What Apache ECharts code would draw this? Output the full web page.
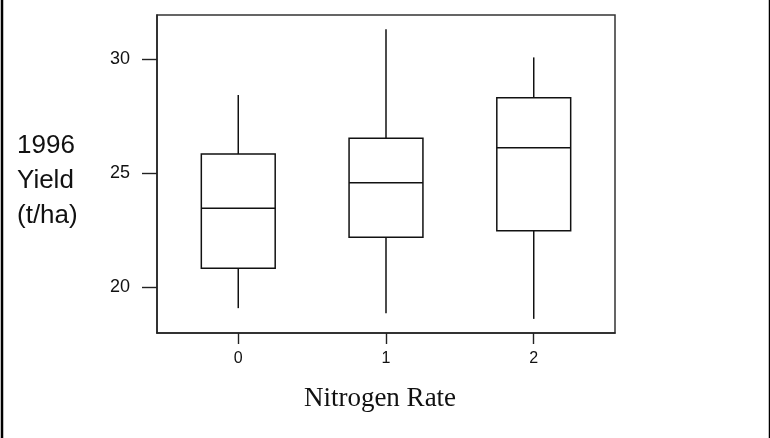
<!DOCTYPE html>
<html>
<head>
<meta charset="utf-8">
<script src="https://cdn.jsdelivr.net/npm/echarts@6/dist/echarts.min.js"></script>
<style>
html,body{margin:0;padding:0;background:#fff;}
#chart{width:770px;height:438px;}
</style>
</head>
<body>
<div id="chart"></div>
<script>
// Data
const categories = ['0', '1', '2'];
const categoryPositions = [0, 1, 2];
const whiskerLow = [19.07, 18.85, 18.60];
const q1Values = [20.82, 22.18, 22.47];
const medianValues = [23.45, 24.57, 26.11];
const q3Values = [25.83, 26.52, 28.30];
const whiskerHigh = [28.42, 31.30, 30.07];
const yTickValues = [20, 25, 30];
const yTickLabels = ['20', '25', '30'];

const BOX_WIDTH = 0.5; // in axis units
const LINE = '#111';

const seriesData = categoryPositions.map((x, i) => [
  x, whiskerLow[i], q1Values[i], medianValues[i], q3Values[i], whiskerHigh[i]
]);

const chart = echarts.init(document.getElementById('chart'), null, {renderer: 'canvas'});

function renderItem(params, api) {
  const x = api.value(0);
  const lo = api.value(1), q1 = api.value(2), med = api.value(3), q3 = api.value(4), hi = api.value(5);
  const pL = api.coord([x - BOX_WIDTH / 2, q3]);
  const pR = api.coord([x + BOX_WIDTH / 2, q1]);
  const pMedL = api.coord([x - BOX_WIDTH / 2, med]);
  const pMedR = api.coord([x + BOX_WIDTH / 2, med]);
  const pHi = api.coord([x, hi]);
  const pQ3 = api.coord([x, q3]);
  const pQ1 = api.coord([x, q1]);
  const pLo = api.coord([x, lo]);
  const style = {stroke: LINE, lineWidth: 1.5, fill: null};
  return {
    type: 'group',
    children: [
      {type: 'line', shape: {x1: pHi[0], y1: pHi[1], x2: pQ3[0], y2: pQ3[1]}, style: style},
      {type: 'line', shape: {x1: pQ1[0], y1: pQ1[1], x2: pLo[0], y2: pLo[1]}, style: style},
      {type: 'rect', shape: {x: pL[0], y: pL[1], width: pR[0] - pL[0], height: pR[1] - pL[1]}, style: {stroke: LINE, lineWidth: 1.5, fill: '#fff'}},
      {type: 'line', shape: {x1: pMedL[0], y1: pMedL[1], x2: pMedR[0], y2: pMedR[1]}, style: style}
    ]
  };
}

const labelFont = '"Liberation Sans", Arial, sans-serif';

const option = {
  animation: false,
  backgroundColor: '#fff',
  grid: {
    left: 157, top: 15, width: 458, height: 318,
    show: true, borderColor: '#333', borderWidth: 1.5, backgroundColor: 'transparent'
  },
  xAxis: {
    type: 'value',
    min: -0.55, max: 2.55,
    splitLine: {show: false},
    axisLine: {show: true, onZero: false, lineStyle: {color: '#222', width: 1.5}},
    axisTick: {show: true, length: 11, customValues: categoryPositions, lineStyle: {color: '#222', width: 1.4}},
    axisLabel: {
      customValues: categoryPositions,
      margin: 18,
      textStyle: {fontSize: 16, fontFamily: labelFont, color: '#111'},
      fontFamily: labelFont,
      fontSize: 16, color: '#111',
      formatter: (v) => categories[Math.round(v)]
    }
  },
  yAxis: {
    type: 'value',
    min: 17.98, max: 31.93,
    splitLine: {show: false},
    axisLine: {show: true, onZero: false, lineStyle: {color: '#222', width: 1.5}},
    axisTick: {show: true, length: 15, customValues: yTickValues, lineStyle: {color: '#222', width: 1.4}},
    axisLabel: {
      customValues: yTickValues,
      margin: 27,
      fontFamily: labelFont,
      fontSize: 18, color: '#111',
      formatter: (v) => yTickLabels[yTickValues.indexOf(Math.round(v))]
    }
  },
  series: [{
    type: 'custom',
    renderItem: renderItem,
    data: seriesData,
    encode: {x: 0, y: [1, 2, 3, 4, 5]},
    clip: false
  }],
  graphic: [
    {type: 'line', shape: {x1: 2, y1: 0, x2: 2, y2: 438}, style: {stroke: '#000', lineWidth: 2.5}},
    {type: 'line', shape: {x1: 769.5, y1: 0, x2: 769.5, y2: 438}, style: {stroke: '#000', lineWidth: 1.5}},
    {
      type: 'text', left: 17, top: 128,
      style: {
        text: '1996\nYield\n(t/ha)',
        font: '26px "Liberation Sans", Arial, sans-serif',
        lineHeight: 35, fill: '#111', align: 'left'
      }
    },
    {
      type: 'text', x: 380, y: 399,
      style: {
        text: 'Nitrogen Rate',
        font: '27px "Liberation Serif", "Times New Roman", serif',
        fill: '#111', align: 'center', verticalAlign: 'middle'
      }
    }
  ]
};
chart.setOption(option);
</script>
</body>
</html>
